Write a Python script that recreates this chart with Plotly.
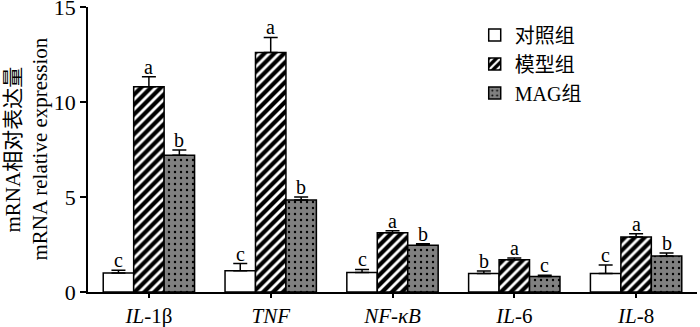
import plotly.graph_objects as go
import numpy as np

categories = ["<i>IL</i>-1β", "<i>TNF</i>", "<i>NF-κB</i>", "<i>IL</i>-6", "<i>IL</i>-8"]
series_names = ["对照组", "模型组", "MAG组"]
control = [1.00, 1.12, 1.02, 0.98, 0.98]
control_err = [0.15, 0.38, 0.17, 0.12, 0.44]
model = [10.8, 12.6, 3.12, 1.70, 2.89]
model_err = [0.53, 0.80, 0.11, 0.09, 0.18]
mag = [7.2, 4.84, 2.46, 0.81, 1.89]
mag_err = [0.27, 0.16, 0.08, 0.07, 0.16]
letters = [
    ["c", "c", "c", "b", "c"],
    ["a", "a", "a", "a", "a"],
    ["b", "b", "b", "c", "b"],
]
yticks = [0, 5, 10, 15]
ytitle_lines = ["mRNA相对表达量", "mRNA relative expression"]

FONT = "Liberation Serif, Noto Sans CJK SC, serif"
x = np.arange(len(categories))
vals = [control, model, mag]
errs = [control_err, model_err, mag_err]
styles = [
    dict(color="white", pattern=None),
    dict(color="black", pattern=dict(shape="/", fgcolor="white", bgcolor="black", size=7, solidity=0.4, fillmode="replace")),
    dict(color="#808080", pattern=dict(shape=".", fgcolor="black", bgcolor="#808080", size=6, solidity=0.12, fillmode="replace")),
]

fig = go.Figure()
for j in range(3):
    marker = dict(color=styles[j]["color"], line=dict(color="black", width=1.5))
    if styles[j]["pattern"]:
        marker["pattern"] = styles[j]["pattern"]
    fig.add_trace(go.Bar(
        x=x, y=vals[j], name=series_names[j], marker=marker,
        error_y=dict(type="data", symmetric=False, array=errs[j], arrayminus=[0]*5,
                     color="black", thickness=1.5, width=7),
    ))

bw = 0.25
for j in range(3):
    for i in range(len(categories)):
        fig.add_annotation(x=i + (j - 1) * bw, y=vals[j][i] + errs[j][i], text=letters[j][i],
                           showarrow=False, yanchor="bottom", yshift=-3,
                           font=dict(family=FONT, size=20, color="black"))

for k, line in enumerate(ytitle_lines):
    fig.add_annotation(xref="paper", yref="paper", x=0, y=0.5, xshift=-76 + 27 * k,
                       xanchor="center", yanchor="middle", textangle=-90, showarrow=False,
                       text=line, font=dict(family=FONT, size=21, color="black"))

fig.update_layout(
    width=700, height=327,
    margin=dict(l=88, r=3, t=7, b=35, autoexpand=False),
    plot_bgcolor="white", paper_bgcolor="white",
    barmode="group", bargap=0.25, bargroupgap=0,
    font=dict(family=FONT, size=17, color="black"),
    legend=dict(x=0.635, y=0.97, xanchor="left", yanchor="top", bgcolor="rgba(0,0,0,0)",
                font=dict(family=FONT, size=20, color="black"), tracegroupgap=0),
    showlegend=True,
)
fig.update_xaxes(tickvals=list(x), ticktext=categories, range=[-0.5, 4.5],
                 showline=True, linecolor="black", linewidth=1.5, automargin=False,
                 ticks="outside", ticklen=4, tickwidth=1.5, tickcolor="black",
                 ticklabeloverflow="allow",
                 showgrid=False, zeroline=False, tickfont=dict(family=FONT, size=21, color="black"))
fig.update_yaxes(range=[0, 15], tickvals=yticks, showline=True, linecolor="black", linewidth=1.5,
                 automargin=False, ticklabeloverflow="allow",
                 ticks="outside", ticklen=6, tickwidth=1.5, tickcolor="black",
                 showgrid=False, zeroline=False, tickfont=dict(family=FONT, size=22, color="black"))

fig.write_html("out.html", config={"displayModeBar": False},
               post_script="document.body.style.margin='0';document.body.style.overflow='hidden';")
